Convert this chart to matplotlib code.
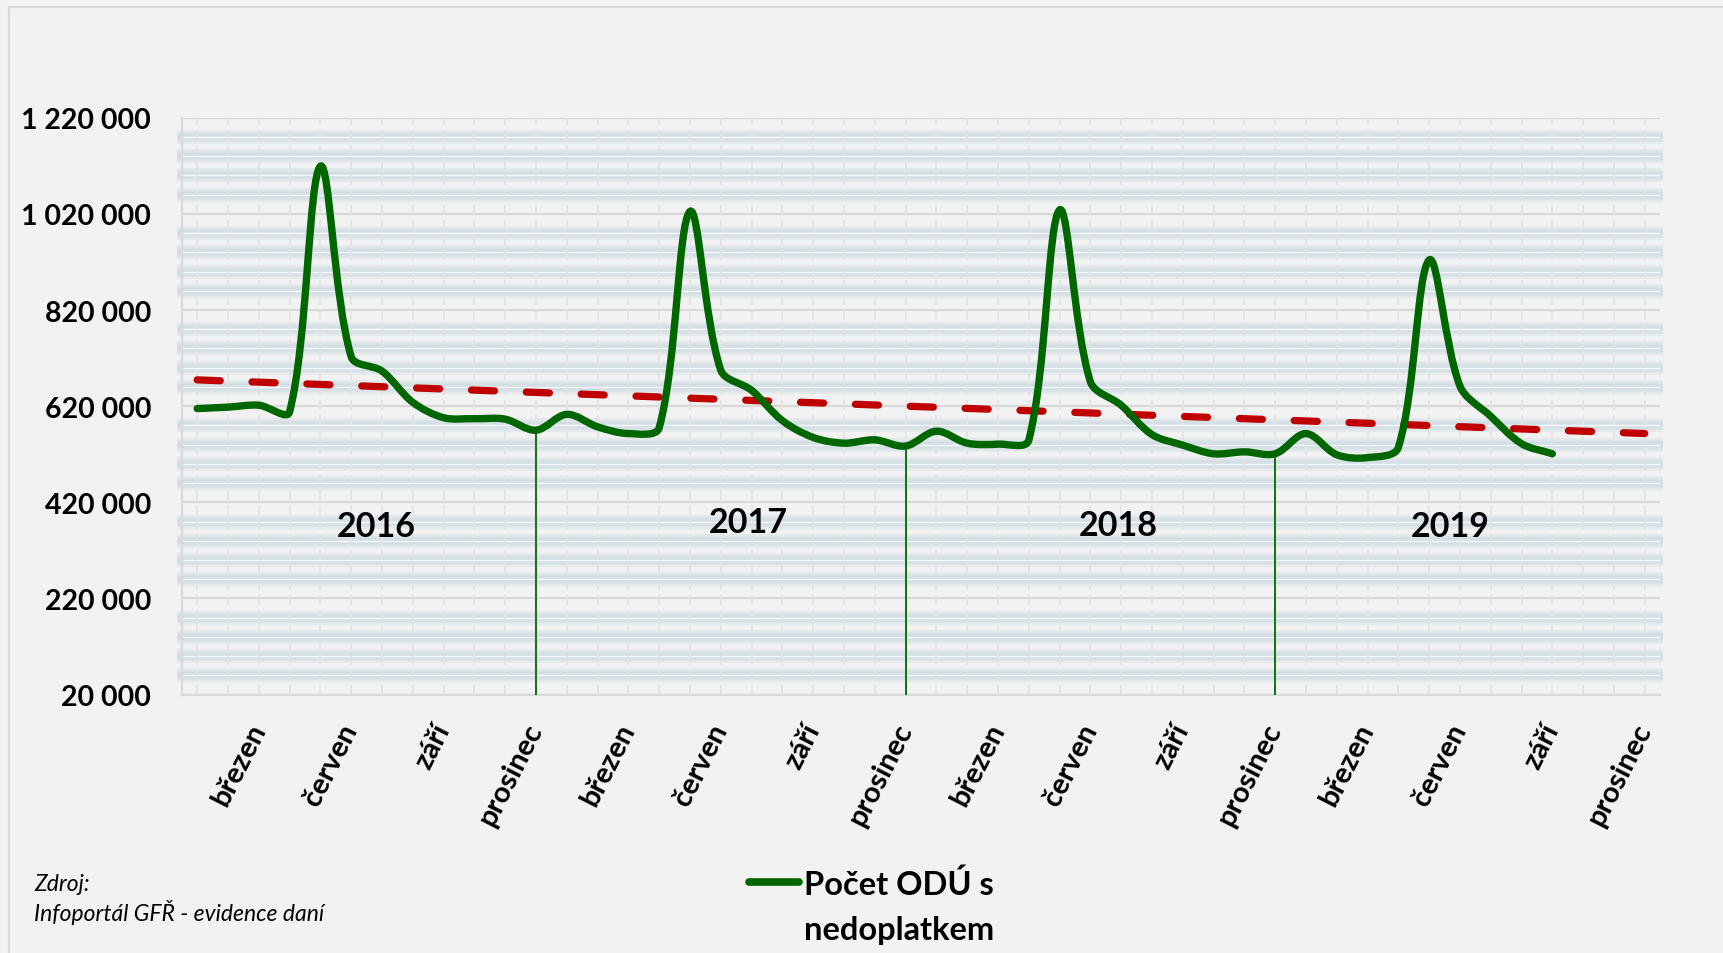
import numpy as np
import matplotlib.pyplot as plt
from matplotlib.path import Path
from matplotlib.patches import PathPatch, Rectangle
from matplotlib.lines import Line2D
from matplotlib.legend_handler import HandlerLine2D

plt.rcParams['font.family'] = ['Lato', 'DejaVu Sans']

# monthly values, leden 2016 - zari 2019
years = ['2016', '2017', '2018', '2019']
months = ['leden', 'únor', 'březen', 'duben', 'květen', 'červen',
          'červenec', 'srpen', 'září', 'říjen', 'listopad', 'prosinec']
labelled_months = ['březen', 'červen', 'září', 'prosinec']
values = [
    615000, 618000, 622000, 608000, 1119000, 723000,
    693000, 628000, 596000, 594000, 593000, 570000,
    603000, 577000, 563000, 575000, 1025000, 695000,
    653000, 590000, 555000, 543000, 550000, 537000,
    568000, 543000, 541000, 549000, 1028000, 671000,
    622000, 561000, 539000, 521000, 525000, 521000,
    563000, 519000, 513000, 534000, 924000, 662000,
    599000, 542000, 521000,
]
year_label_pos = [5.8, 17.9, 29.9, 40.7]
year_label_val = [370000, 379000, 372000, 370000]

n_cat = len(years) * len(months)
x = np.arange(len(values))
y = np.array(values, dtype=float)

fig = plt.figure(figsize=(17.23, 9.54), dpi=100, facecolor='#f2f2f2')
ax = fig.add_axes([0.1055, 0.2708, 0.858, 0.6048])
ax.set_facecolor('#f2f2f2')

# gridlines: major grey, minor as soft blurred bluish bands
for v in np.arange(20000, 1220001, 40000):
    if (v - 20000) % 200000 == 0:
        ax.axhline(v, color='#d9d9d9', lw=1.6, zorder=1)
    else:
        for w in [10, 7, 4.5]:
            ax.axhline(v, xmin=-0.003, xmax=1.002, color='#c5d6e0', lw=w, alpha=0.3,
                       zorder=1, clip_on=False, solid_capstyle='butt')
        ax.axhline(v, color='#f6f8fa', lw=1.0, zorder=1.1)
for i in range(n_cat):
    ax.axvline(i, color='#e2e2e2', lw=1.2, ls=(0, (6, 3)), zorder=1.2)

# smoothed line like the spreadsheet "smooth line":
# bezier handles scaled by neighbouring segment lengths (in screen units)
sx, sy = 30.77, 96.0 / 200000
pts = np.column_stack([x, y])
scr = pts * [sx, sy]
ext = np.vstack([scr[0], scr, scr[-1]])
verts = [tuple(pts[0])]
codes = [Path.MOVETO]
out_h, in_h = [], []
for i in range(len(scr)):
    p_prev, p, p_next = ext[i], ext[i + 1], ext[i + 2]
    t = p_next - p_prev
    d1 = np.hypot(*(p - p_prev))
    d2 = np.hypot(*(p_next - p))
    tot = d1 + d2 if d1 + d2 > 0 else 1
    out_h.append(p + t * d2 / tot / 3)
    in_h.append(p - t * d1 / tot / 3)
for i in range(len(scr) - 1):
    c1 = out_h[i] / [sx, sy]
    c2 = in_h[i + 1] / [sx, sy]
    verts += [tuple(c1), tuple(c2), tuple(pts[i + 1])]
    codes += [Path.CURVE4] * 3
ax.add_patch(PathPatch(Path(verts, codes), facecolor='none', edgecolor='#006600',
                       lw=5.3, capstyle='round', joinstyle='round', zorder=4))

# linear trend, forecast to end of 2019
k, q = np.polyfit(x, y, 1)
xt = np.arange(n_cat)
ax.plot(xt, k * xt + q, color='#c00000', lw=5.2, ls=(0, (3.2, 4.4)),
        dash_capstyle='round', zorder=3)

# year separators at December
for yi in range(len(years) - 1):
    d = yi * 12 + 11
    ax.vlines(d, 20000, values[d], color='#006600', lw=1.3, zorder=3.5)

for yr, xp, vp in zip(years, year_label_pos, year_label_val):
    ax.text(xp, vp, yr, fontsize=24.5, fontweight='bold', ha='center', va='center', zorder=5)

ax.set_xlim(-0.5, n_cat - 0.5)
ax.set_ylim(20000, 1220000)
yt = np.arange(20000, 1220001, 200000)
ax.set_yticks(yt)
ax.set_yticklabels([f'{v:,}'.replace(',', ' ') for v in yt], fontsize=20.5, fontweight='bold')

tick_pos = [i for i in range(n_cat) if months[i % 12] in labelled_months]
ax.set_xticks(tick_pos)
ax.set_xticklabels([months[i % 12] for i in tick_pos], fontsize=21, fontweight='bold',
                   rotation=63, ha='right', va='center', rotation_mode='anchor')
ax.tick_params(axis='x', length=0, pad=22)
ax.tick_params(axis='y', length=0, pad=22)
for s in ['top', 'right']:
    ax.spines[s].set_visible(False)
for s in ['left', 'bottom']:
    ax.spines[s].set_color('#d9d9d9')
    ax.spines[s].set_linewidth(1.6)


class FirstLineHandler(HandlerLine2D):
    # put the legend line next to the first line of a two-line label
    def create_artists(self, legend, orig_handle, xdescent, ydescent,
                       width, height, fontsize, trans):
        arts = super().create_artists(legend, orig_handle, xdescent, ydescent,
                                      width, height, fontsize, trans)
        for a in arts:
            a.set_ydata(np.asarray(a.get_ydata()) + 0.76 * fontsize)
        return arts


handle = Line2D([], [], color='#006600', lw=5.5, solid_capstyle='round')
leg = fig.legend([handle], ['Počet ODÚ s\nnedoplatkem'], loc='upper left',
                 bbox_to_anchor=(0.4345, 0.089), frameon=False, handlelength=1.55,
                 handletextpad=0.15, borderpad=0, borderaxespad=0,
                 prop={'weight': 'bold', 'size': 23.5},
                 handler_map={Line2D: FirstLineHandler()})
for t in leg.get_texts():
    t.set_linespacing(1.68)

fig.text(0.02, 0.073, 'Zdroj:', fontsize=16.5, style='italic', va='center')
fig.text(0.02, 0.043, 'Infoportál GFŘ - evidence daní', fontsize=16.5, style='italic', va='center')

fig.patches.append(Rectangle((0.005, -0.01), 1.2, 1.0015, transform=fig.transFigure,
                             fill=False, ec='#d9d9d9', lw=1.5))

fig.savefig('out.png', dpi=100, facecolor=fig.get_facecolor())
